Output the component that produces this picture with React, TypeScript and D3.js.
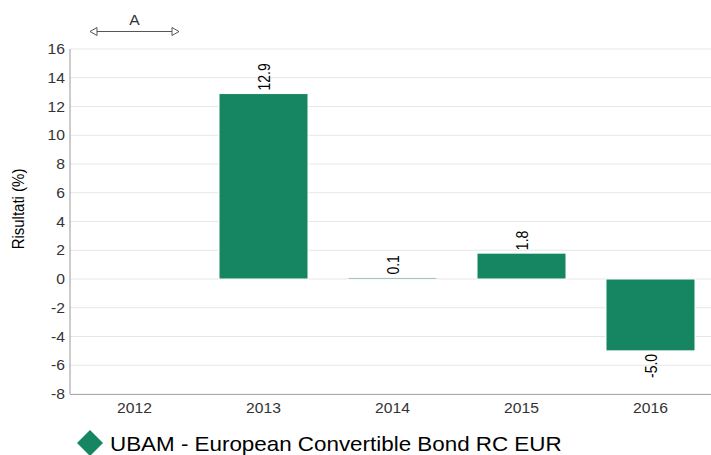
import React from "react";
import * as d3 from "d3";

const categories = ["2012", "2013", "2014", "2015", "2016"];
const values: (number | null)[] = [null, 12.9, 0.1, 1.8, -5.0];
const yTicks = [-8, -6, -4, -2, 0, 2, 4, 6, 8, 10, 12, 14, 16];
const seriesName = "UBAM - European Convertible Bond RC EUR";
const annotationLabel = "A";

const W = 711;
const H = 455;
const left = 70;
const right = 715;
const top = 49;
const bottom = 394;
const color = "#168662";
const font = "'Liberation Sans', Arial, sans-serif";
const sx = 1.12;

function HText(props: { x: number; y: number; anchor?: string; size: number; fill: string; children: any }) {
  return (
    <text
      transform={`translate(${props.x},${props.y}) scale(${sx},1)`}
      textAnchor={props.anchor || "start"}
      fontSize={props.size}
      fill={props.fill}
    >
      {props.children}
    </text>
  );
}

export default function App() {
  const x = d3.scaleBand<string>().domain(categories).range([left, right]).paddingInner(0.31).paddingOuter(0.155);
  const y = d3.scaleLinear().domain([-8, 16]).range([bottom, top]);
  const bw = x.bandwidth();
  const a0 = x("2012")!;
  const a1 = a0 + bw;
  return (
    <svg width={W} height={H} style={{ position: "absolute", left: 0, top: 0, fontFamily: font }}>
      {yTicks.map((t) => (
        <g key={t}>
          <line x1={left} x2={W} y1={y(t)} y2={y(t)} stroke="#e6e6e6" strokeWidth={1} />
          <HText x={left - 5} y={y(t) + 5} anchor="end" size={14} fill="#333">{t}</HText>
        </g>
      ))}
      <line x1={left} x2={left} y1={top} y2={bottom} stroke="#999" />
      <line x1={left} x2={W} y1={bottom + 0.5} y2={bottom + 0.5} stroke="#aaa" />
      {categories.map((c) => (
        <HText key={c} x={x(c)! + bw / 2} y={bottom + 19} anchor="middle" size={14} fill="#333">{c}</HText>
      ))}
      {categories.map((c, i) => {
        const v = values[i];
        if (v == null) return null;
        const y0 = y(Math.max(0, v));
        const y1 = y(Math.min(0, v));
        const cx = x(c)! + bw / 2;
        return (
          <g key={c}>
            <rect x={x(c)!} y={y0} width={bw} height={Math.max(y1 - y0, 0.5)} fill={color} stroke="#fff" strokeWidth={1} />
            {v >= 0 ? (
              <text transform={`translate(${cx + 6},${y0 - 3}) rotate(-90) scale(1,${sx})`} textAnchor="start" fontSize={14} fill="#000">{v.toFixed(1)}</text>
            ) : (
              <text transform={`translate(${cx + 6},${y1 + 3}) rotate(-90) scale(1,${sx})`} textAnchor="end" fontSize={14} fill="#000">{v.toFixed(1)}</text>
            )}
          </g>
        );
      })}
      <text transform={`translate(24,209) rotate(-90) scale(1,${sx})`} textAnchor="middle" fontSize={15} fill="#000">Risultati (%)</text>
      <g stroke="#555" fill="#fff" strokeWidth={1}>
        <line x1={a0 + 6} x2={a1 - 6} y1={31.5} y2={31.5} />
        <path d={`M${a0},31.5 L${a0 + 7},27.5 L${a0 + 7},35.5 Z`} />
        <path d={`M${a1},31.5 L${a1 - 7},27.5 L${a1 - 7},35.5 Z`} />
      </g>
      <HText x={(a0 + a1) / 2} y={25} anchor="middle" size={14} fill="#333">{annotationLabel}</HText>
      <path d="M90,430 L103,443 L90,456 L77,443 Z" fill={color} />
      <HText x={110} y={451} size={20} fill="#000">{seriesName}</HText>
    </svg>
  );
}
